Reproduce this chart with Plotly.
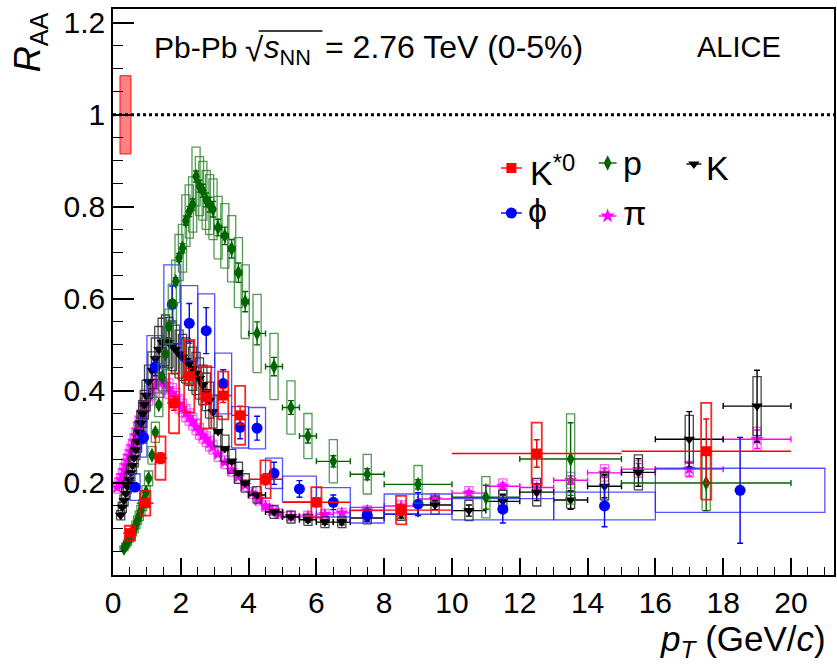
import plotly.graph_objects as go

# ---------------- data ----------------
# K*0 (red squares)
kst_pt = [0.5, 0.95, 1.4, 1.8, 2.25, 2.75, 3.25, 3.75, 4.5, 6.0, 8.5, 12.5, 17.5]
kst_r = [0.091, 0.156, 0.254, 0.373, 0.432, 0.386, 0.39, 0.347, 0.208, 0.158, 0.141, 0.264, 0.269]
kst_stat = [0.005, 0.008, 0.012, 0.015, 0.017, 0.015, 0.015, 0.02, 0.012, 0.01, 0.012, 0.03, 0.07]
kst_sys = [0.016, 0.027, 0.047, 0.065, 0.079, 0.068, 0.052, 0.064, 0.041, 0.033, 0.031, 0.067, 0.105]
kst_xerr = [0.2, 0.25, 0.2, 0.2, 0.25, 0.25, 0.25, 0.25, 0.5, 1.0, 1.5, 2.5, 2.5]

# phi (blue circles)
phi_pt = [0.65, 0.9, 1.25, 1.75, 2.25, 2.75, 3.25, 3.75, 4.25, 4.75, 5.5, 6.5, 7.5, 9.0, 11.5, 14.5, 18.5]
phi_r = [0.191, 0.299, 0.453, 0.588, 0.547, 0.531, 0.416, 0.321, 0.319, 0.221, 0.187, 0.158, 0.130, 0.154, 0.143, 0.150, 0.184]
phi_stat = [0.008, 0.012, 0.02, 0.04, 0.043, 0.05, 0.03, 0.025, 0.026, 0.024, 0.018, 0.016, 0.013, 0.025, 0.03, 0.045, 0.115]
phi_sys = [0.029, 0.043, 0.067, 0.086, 0.082, 0.08, 0.066, 0.045, 0.045, 0.033, 0.028, 0.032, 0.017, 0.022, 0.023, 0.03, 0.048]
phi_lo = [0.5, 0.8, 1.0, 1.5, 2.0, 2.5, 3.0, 3.5, 4.0, 4.5, 5.0, 6.0, 7.0, 8.0, 10.0, 13.0, 16.0]
phi_hi = [0.8, 1.0, 1.5, 2.0, 2.5, 3.0, 3.5, 4.0, 4.5, 5.0, 6.0, 7.0, 8.0, 10.0, 13.0, 16.0, 21.0]

# protons (green diamonds)
p_pt = [0.325, 0.375, 0.425, 0.475, 0.525, 0.575, 0.625, 0.675, 0.725, 0.775, 0.825, 0.875, 0.925, 0.975,
        1.05, 1.15, 1.25, 1.35, 1.45, 1.55, 1.65, 1.75, 1.85, 1.95, 2.05, 2.15, 2.25, 2.35, 2.45, 2.55, 2.65, 2.75, 2.85, 2.95,
        3.1, 3.3, 3.5, 3.7, 3.9,
        4.25, 4.75, 5.25, 5.75, 6.5, 7.5, 9.0, 11.0, 13.5, 17.5]
p_r = [0.058, 0.064, 0.070, 0.077, 0.084, 0.092, 0.100, 0.109, 0.119, 0.129, 0.140, 0.152, 0.165, 0.180,
       0.21, 0.26, 0.31, 0.37, 0.43, 0.48, 0.54, 0.59, 0.638, 0.69, 0.71, 0.77, 0.79, 0.805, 0.866, 0.845, 0.835, 0.815, 0.805, 0.795,
       0.755, 0.737, 0.709, 0.657, 0.594,
       0.525, 0.453, 0.364, 0.302, 0.247, 0.219, 0.197, 0.169, 0.252, 0.200]
p_stat = [0.002, 0.002, 0.002, 0.002, 0.002, 0.002, 0.002, 0.002, 0.003, 0.003, 0.003, 0.003, 0.003, 0.003,
          0.004, 0.004, 0.005, 0.005, 0.006, 0.006, 0.007, 0.008, 0.008, 0.009, 0.01, 0.01, 0.011, 0.012, 0.012, 0.013, 0.014, 0.015, 0.016, 0.017,
          0.018, 0.019, 0.02, 0.021, 0.022,
          0.025, 0.02, 0.015, 0.015, 0.012, 0.012, 0.01, 0.026, 0.079, 0.06]
p_sys = [0.005, 0.005, 0.006, 0.006, 0.007, 0.007, 0.008, 0.008, 0.009, 0.010, 0.011, 0.012, 0.013, 0.014,
         0.016, 0.019, 0.022, 0.026, 0.030, 0.034, 0.038, 0.042, 0.046, 0.050, 0.052, 0.056, 0.058, 0.060, 0.064, 0.064, 0.064, 0.064, 0.065, 0.066,
         0.068, 0.070, 0.072, 0.076, 0.080,
         0.085, 0.072, 0.058, 0.049, 0.047, 0.043, 0.041, 0.045, 0.098, 0.06]
p_xerr = [0.025, 0.025, 0.025, 0.025, 0.025, 0.025, 0.025, 0.025, 0.025, 0.025, 0.025, 0.025, 0.025, 0.025,
          0.05, 0.05, 0.05, 0.05, 0.05, 0.05, 0.05, 0.05, 0.05, 0.05, 0.05, 0.05, 0.05, 0.05, 0.05, 0.05, 0.05, 0.05, 0.05, 0.05,
          0.1, 0.1, 0.1, 0.1, 0.1,
          0.25, 0.25, 0.25, 0.25, 0.5, 0.5, 1.0, 1.0, 1.5, 2.5]

# charged kaons (black triangles)
k_pt = [0.225, 0.275, 0.325, 0.375, 0.425, 0.475, 0.525, 0.575, 0.625, 0.675, 0.725, 0.775, 0.825, 0.875, 0.925, 0.975,
        1.05, 1.15, 1.25, 1.35, 1.45, 1.55, 1.65, 1.75, 1.85, 1.95, 2.05, 2.15, 2.25, 2.35, 2.45, 2.55, 2.65, 2.75, 2.85, 2.95,
        3.1, 3.3, 3.5, 3.7, 3.9,
        4.25, 4.75, 5.25, 5.75, 6.25, 6.75, 7.5, 8.5, 9.5, 10.5, 11.5, 12.5, 13.5, 14.5, 15.5, 17.0, 19.0]
k_r = [0.13, 0.147, 0.162, 0.177, 0.192, 0.207, 0.222, 0.238, 0.255, 0.272, 0.29, 0.31, 0.33, 0.35, 0.37, 0.39,
       0.42, 0.445, 0.47, 0.49, 0.505, 0.51, 0.505, 0.498, 0.49, 0.48, 0.473, 0.466, 0.46, 0.448, 0.438, 0.427, 0.413, 0.398, 0.38, 0.355,
       0.312, 0.275, 0.247, 0.222, 0.2,
       0.174, 0.137, 0.126, 0.12, 0.115, 0.115, 0.124, 0.132, 0.152, 0.14, 0.16, 0.18, 0.163, 0.193, 0.223, 0.295, 0.367]
k_stat = [0.002] * 16 + [0.003] * 20 + [0.004] * 5 + \
         [0.004, 0.004, 0.004, 0.005, 0.005, 0.006, 0.007, 0.008, 0.01, 0.012, 0.015, 0.018, 0.02, 0.025, 0.03, 0.06, 0.078]
k_sys = [0.010, 0.011, 0.012, 0.013, 0.014, 0.016, 0.017, 0.018, 0.020, 0.021, 0.023, 0.025, 0.027, 0.029, 0.031, 0.033,
         0.036, 0.040, 0.045, 0.050, 0.053, 0.055, 0.055, 0.054, 0.053, 0.052, 0.050, 0.049, 0.048, 0.047, 0.046, 0.045, 0.043, 0.041, 0.039, 0.036,
         0.033, 0.029, 0.026, 0.023, 0.020,
         0.018, 0.014, 0.013, 0.012, 0.012, 0.012, 0.013, 0.013, 0.020, 0.022, 0.024, 0.030, 0.018, 0.030, 0.038, 0.052, 0.064]
k_xerr = [0.025] * 16 + [0.05] * 20 + [0.1] * 5 + \
         [0.25, 0.25, 0.25, 0.25, 0.25, 0.25, 0.5, 0.5, 0.5, 0.5, 0.5, 0.5, 0.5, 0.5, 0.5, 1.0, 1.0]

# charged pions (magenta stars)
pi_pt = [0.125, 0.175, 0.225, 0.275, 0.325, 0.375, 0.425, 0.475, 0.525, 0.575, 0.625, 0.675, 0.725, 0.775, 0.825, 0.875, 0.925, 0.975,
         1.05, 1.15, 1.25, 1.35, 1.45, 1.55, 1.65, 1.75, 1.85, 1.95, 2.05, 2.15, 2.25, 2.35, 2.45, 2.55, 2.65, 2.75, 2.85, 2.95,
         3.1, 3.3, 3.5, 3.7, 3.9, 4.1, 4.3, 4.5, 4.7, 4.9,
         5.25, 5.75, 6.25, 6.75, 7.5, 8.5, 9.5, 10.5, 11.5, 12.5, 13.5, 14.5, 15.5, 17.0, 19.0]
pi_r = [0.19, 0.198, 0.207, 0.217, 0.228, 0.238, 0.248, 0.258, 0.268, 0.279, 0.29, 0.302, 0.315, 0.328, 0.34, 0.352, 0.364, 0.375,
        0.39, 0.402, 0.412, 0.418, 0.42, 0.415, 0.405, 0.395, 0.385, 0.372, 0.363, 0.352, 0.343, 0.333, 0.322, 0.312, 0.303, 0.295, 0.286, 0.278,
        0.262, 0.245, 0.228, 0.212, 0.195, 0.178, 0.163, 0.15, 0.14, 0.133,
        0.128, 0.128, 0.132, 0.135, 0.14, 0.15, 0.165, 0.178, 0.193, 0.19, 0.206, 0.222, 0.23, 0.23, 0.295]
pi_stat = [0.001] * 18 + [0.002] * 20 + [0.002] * 10 + \
          [0.002, 0.002, 0.003, 0.003, 0.003, 0.004, 0.005, 0.006, 0.007, 0.008, 0.009, 0.01, 0.012, 0.015, 0.02]
pi_sys = [0.012, 0.012, 0.013, 0.013, 0.014, 0.014, 0.015, 0.015, 0.016, 0.016, 0.017, 0.017, 0.018, 0.018, 0.019, 0.019, 0.020, 0.020,
          0.021, 0.021, 0.022, 0.022, 0.022, 0.022, 0.021, 0.021, 0.020, 0.020, 0.019, 0.019, 0.018, 0.018, 0.017, 0.017, 0.016, 0.016, 0.016, 0.015,
          0.015, 0.014, 0.013, 0.013, 0.012, 0.012, 0.011, 0.011, 0.010, 0.010,
          0.010, 0.010, 0.010, 0.010, 0.010, 0.011, 0.012, 0.014, 0.016, 0.016, 0.017, 0.018, 0.018, 0.017, 0.026]
pi_xerr = [0.025] * 18 + [0.05] * 20 + [0.1] * 10 + \
          [0.25, 0.25, 0.25, 0.25, 0.5, 0.5, 0.5, 0.5, 0.5, 0.5, 0.5, 0.5, 0.5, 1.0, 1.0]

# global normalisation uncertainty
norm_center = 1.0
norm_unc = 0.085

# ---------------- layout helpers ----------------
W, H = 837, 667
ML, MR, MT, MB = 113, 1, 9, 92
X0, X1 = 0.0, 21.27
Y0, Y1 = 0.0, 1.23
PW, PH = W - ML - MR, H - MT - MB
FONT = "Liberation Sans, Arial, sans-serif"


def px_x(px):
    return X0 + (px - ML) / PW * (X1 - X0)


def px_y(py):
    return Y0 + (H - MB - py) / PH * (Y1 - Y0)


def paper_x(px):
    return (px - ML) / PW


def paper_y(py):
    return (H - MB - py) / PH


def boxes(xlo, xhi, yc, sy):
    bx, by = [], []
    for a, b, c, s in zip(xlo, xhi, yc, sy):
        bx += [a, b, b, a, a, None]
        by += [c - s, c - s, c + s, c + s, c - s, None]
    return bx, by


fig = go.Figure()

BOXW = 0.12


def add_series(pt, r, stat, sys, xerr, color, boxcolor, symbol, size, capx, xlo=None, xhi=None, boxw=BOXW, lw=1.3):
    if xlo is None:
        xlo = [v - boxw for v in pt]
        xhi = [v + boxw for v in pt]
    bx, by = boxes(xlo, xhi, r, sys)
    fig.add_trace(go.Scatter(x=bx, y=by, mode="lines", line=dict(color=boxcolor, width=lw),
                             hoverinfo="skip", showlegend=False))
    ex = dict(type="data", array=xerr, color=color, thickness=1.4, width=capx) if xerr is not None else dict(visible=False)
    fig.add_trace(go.Scatter(x=pt, y=r, mode="markers",
                             marker=dict(symbol=symbol, size=size, color=color, line=dict(width=0)),
                             error_y=dict(type="data", array=stat, color=color, thickness=1.4, width=3),
                             error_x=ex, showlegend=False))


# normalisation box
fig.add_trace(go.Scatter(x=[px_x(120), px_x(131), px_x(131), px_x(120), px_x(120)],
                         y=[norm_center - norm_unc, norm_center - norm_unc, norm_center + norm_unc,
                            norm_center + norm_unc, norm_center - norm_unc],
                         mode="lines", fill="toself", fillcolor="rgba(255,90,90,0.75)",
                         line=dict(color="rgba(255,0,0,0.9)", width=1), hoverinfo="skip", showlegend=False))

add_series(pi_pt, pi_r, pi_stat, pi_sys, pi_xerr, "#ff00ff", "rgba(255,60,255,0.8)", "star", 10, 3)
add_series(k_pt, k_r, k_stat, k_sys, k_xerr, "#000000", "rgba(40,40,40,0.85)", "triangle-down", 10, 3)
add_series(phi_pt, phi_r, phi_stat, phi_sys, None, "#0000ff", "rgba(40,40,255,0.8)", "circle", 11, 3,
           xlo=phi_lo, xhi=phi_hi)
add_series(p_pt, p_r, p_stat, p_sys, p_xerr, "#006400", "rgba(40,130,40,0.8)", "diamond-tall", 11, 3)
add_series(kst_pt, kst_r, kst_stat, kst_sys, kst_xerr, "#ff0000", "rgba(255,0,0,0.85)", "square", 10, 0,
           boxw=0.15, lw=1.8)

# ---------------- manual legend ----------------
legend_items = [
    ("K<sup>*0</sup>", "#ff0000", "square", 10, 502, 523, 168, 529, 170),
    ("p", "#006400", "diamond-tall", 11, 600, 618, 163, 622, 163),
    ("K", "#000000", "triangle-down", 10, 688, 703, 164, 706, 168),
    ("\u03d5", "#0000ff", "circle", 11, 502, 523, 213, 527, 210),
    ("\u03c0", "#ff00ff", "star", 11, 600, 618, 216, 622, 213),
]
annotations = []
for txt_, col, sym, sz, xa, xb, ly, tx, ty in legend_items:
    fig.add_trace(go.Scatter(x=[px_x(xa), px_x(xb)], y=[px_y(ly)] * 2, mode="lines",
                             line=dict(color=col, width=1.4), hoverinfo="skip", showlegend=False))
    fig.add_trace(go.Scatter(x=[px_x((xa + xb) / 2)], y=[px_y(ly)], mode="markers",
                             marker=dict(symbol=sym, size=sz, color=col), hoverinfo="skip", showlegend=False))
    annotations.append(dict(x=px_x(tx), y=px_y(ty), xref="x", yref="y", text=txt_, showarrow=False,
                            xanchor="left", yanchor="middle", font=dict(size=34, color="black", family=FONT)))


# ---------------- texts ----------------
def txt(px, py, text, size, anchor="left"):
    return dict(x=paper_x(px), y=paper_y(py), xref="paper", yref="paper", xanchor=anchor, yanchor="middle",
                showarrow=False, text=text, font=dict(size=size, color="black", family=FONT))


annotations += [
    txt(152, 47, "Pb-Pb", 30),
    txt(243, 50, "\u221a", 33),
    txt(262, 50, "<i>s</i><sub>NN</sub>", 31),
    txt(324, 47, "= 2.76 TeV (0-5%)", 32),
    txt(697, 47, "ALICE", 29),
    txt(830, 641, "<i>p</i><sub><i>T</i></sub> (GeV/<i>c</i>)", 35, anchor="right"),
]
annotations.append(dict(x=paper_x(30), y=paper_y(42), xref="paper", yref="paper", xanchor="center",
                        yanchor="middle", showarrow=False, textangle=-90, text="<i>R</i><sub>AA</sub>",
                        font=dict(size=36, color="black", family=FONT)))

fig.update_layout(
    width=W, height=H,
    margin=dict(l=ML, r=MR, t=MT, b=MB),
    paper_bgcolor="white", plot_bgcolor="white",
    showlegend=False,
    annotations=annotations,
    shapes=[
        dict(type="line", xref="paper", yref="y", x0=0, x1=1, y0=1, y1=1,
             line=dict(color="black", width=3, dash="dot")),
        dict(type="line", xref="paper", yref="paper", x0=paper_x(259), x1=paper_x(323),
             y0=paper_y(31), y1=paper_y(31), line=dict(color="black", width=1.5)),
    ],
    xaxis=dict(range=[X0, X1], tick0=0, dtick=2, ticks="inside", ticklen=17, tickwidth=1.5, tickcolor="black",
               showline=True, linewidth=1.5, linecolor="black", mirror=True, showgrid=False, zeroline=False,
               tickfont=dict(size=30, color="black", family=FONT),
               minor=dict(ticks="inside", ticklen=8, dtick=0.5, tickwidth=1.2, tickcolor="black", showgrid=False)),
    yaxis=dict(range=[Y0, Y1], tickvals=[0.2, 0.4, 0.6, 0.8, 1.0, 1.2],
               ticktext=["0.2", "0.4", "0.6", "0.8", "1", "1.2"],
               ticks="inside", ticklen=21, tickwidth=1.5, tickcolor="black",
               showline=True, linewidth=1.5, linecolor="black", mirror=True, showgrid=False, zeroline=False,
               tickfont=dict(size=30, color="black", family=FONT),
               minor=dict(ticks="inside", ticklen=10, dtick=0.05, tickwidth=1.2, tickcolor="black", showgrid=False)),
)

fig.write_html("out.html")
